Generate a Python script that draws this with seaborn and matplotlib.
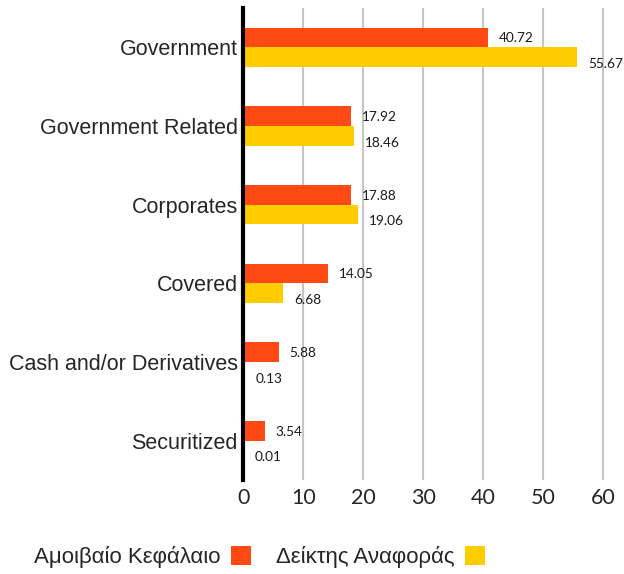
import pandas as pd
import matplotlib
matplotlib.use("Agg")
import matplotlib.pyplot as plt
from matplotlib.patches import Patch
import seaborn as sns

# Data
categories = ["Government", "Government Related", "Corporates", "Covered",
              "Cash and/or Derivatives", "Securitized"]
fund_values = [40.72, 17.92, 17.88, 14.05, 5.88, 3.54]
index_values = [55.67, 18.46, 19.06, 6.68, 0.13, 0.01]
series_names = ["Αμοιβαίο Κεφάλαιο", "Δείκτης Αναφοράς"]
x_ticks = [0, 10, 20, 30, 40, 50, 60]

colors = ["#FF4A14", "#FFCC00"]

df = pd.DataFrame({
    "category": categories * 2,
    "value": fund_values + index_values,
    "series": [series_names[0]] * len(categories) + [series_names[1]] * len(categories),
})

sns.set_style("white")
fig = plt.figure(figsize=(6.24, 5.74), dpi=100)
ax = fig.add_axes([243.3 / 624, 1 - 480 / 574, (606 - 243.3) / 624, (480 - 8) / 574])

sns.barplot(data=df, x="value", y="category", hue="series", orient="h",
            palette=colors, width=0.5, order=categories, hue_order=series_names,
            saturation=1, legend=False, linewidth=0, ax=ax)

ax.set_xlim(0, 60.45)
ax.set_ylim(len(categories) - 0.5, -0.5)
ax.set_xticks(x_ticks)
ax.set_xticklabels([str(t) for t in x_ticks], fontfamily="Lato", fontsize=15.5)
ax.set_yticks(range(len(categories)))
ax.set_yticklabels(categories, fontfamily="Liberation Sans", fontsize=15.5)
ax.tick_params(axis="both", length=0)
ax.tick_params(axis="x", pad=6)
ax.tick_params(axis="y", pad=4)
ax.set_xlabel("")
ax.set_ylabel("")

# vertical grid only
ax.grid(axis="x", color="#c6c6c6", linewidth=1.5)
ax.grid(axis="y", visible=False)
ax.set_axisbelow(True)
for side in ["top", "right", "bottom"]:
    ax.spines[side].set_visible(False)
ax.spines["left"].set_color("black")
ax.spines["left"].set_linewidth(3)
ax.spines["left"].set_zorder(5)

# value labels
offsets = [(8, -0.5), (8, -5)]
for container, off in zip(ax.containers, offsets):
    for bar in container:
        w = bar.get_width()
        ax.annotate(f"{w:.2f}", xy=(w, bar.get_y() + bar.get_height() / 2),
                    xytext=off, textcoords="offset points", va="center", ha="left",
                    fontfamily="Lato", fontsize=9.8, color="#1a1a1a")

# legend: text first, then square
handles = [Patch(facecolor=c, edgecolor="none") for c in colors]
fig.legend(handles, series_names, loc="center", bbox_to_anchor=(0.416, 0.029),
           ncol=2, frameon=False, markerfirst=False, handlelength=0.9,
           handleheight=0.9, handletextpad=0.5, columnspacing=1.1, borderpad=0,
           prop={"family": "Liberation Sans", "size": 16})

fig.savefig("out.png", dpi=100)
